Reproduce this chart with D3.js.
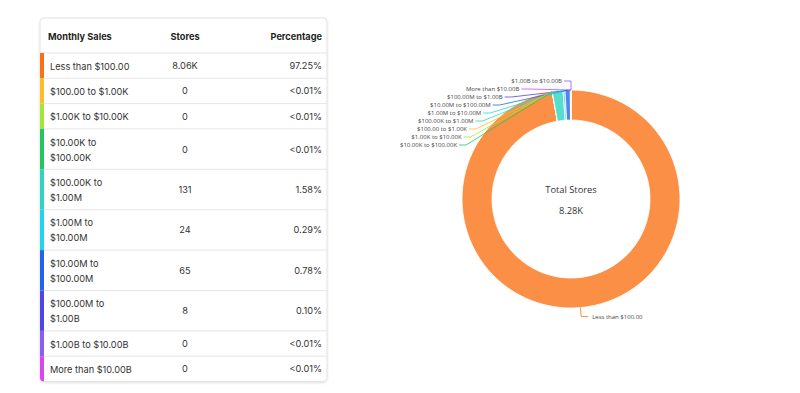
<!DOCTYPE html>
<html>
<head>
<meta charset="utf-8">
<script src="https://cdn.jsdelivr.net/npm/d3@7"></script>
<style>
  body { margin: 0; background: #fff; }
  svg { display: block; }
</style>
</head>
<body>
<svg id="chart" width="800" height="393"></svg>
<script>
// Sales buckets and store counts
const categories = ["Less than $100.00", "$100.00 to $1.00K", "$1.00K to $10.00K", "$10.00K to $100.00K",
  "$100.00K to $1.00M", "$1.00M to $10.00M", "$10.00M to $100.00M", "$100.00M to $1.00B",
  "$1.00B to $10.00B", "More than $10.00B"];
const tableLines = [["Less than $100.00"], ["$100.00 to $1.00K"], ["$1.00K to $10.00K"], ["$10.00K to", "$100.00K"],
  ["$100.00K to", "$1.00M"], ["$1.00M to", "$10.00M"], ["$10.00M to", "$100.00M"], ["$100.00M to", "$1.00B"],
  ["$1.00B to $10.00B"], ["More than $10.00B"]];
const stores = [8060, 0, 0, 0, 131, 24, 65, 8, 0, 0];
const storeLabels = ["8.06K", "0", "0", "0", "131", "24", "65", "8", "0", "0"];
const pctLabels = ["97.25%", "<0.01%", "<0.01%", "<0.01%", "1.58%", "0.29%", "0.78%", "0.10%", "<0.01%", "<0.01%"];
const colors = ["#f97316", "#fbbf24", "#a3e635", "#22c55e", "#2dd4bf", "#22d3ee", "#2563eb", "#4f46e5", "#8b5cf6", "#d946ef"];
const headers = ["Monthly Sales", "Stores", "Percentage"];
const totalLabel = "8.28K";
// order of the stacked labels on the left of the donut (top to bottom)
const leftLabelOrder = [8, 9, 7, 6, 5, 4, 1, 2, 3];

const svg = d3.select("#chart");
const font = "Inter, 'Open Sans', sans-serif";

// ---------- table ----------
const tx0 = 40, tx1 = 327, ttop = 18, headH = 35;
const rowH = tableLines.map(l => l.length > 1 ? 40.4 : 25.3);
const rowTop = [];
rowH.reduce((acc, h, i) => { rowTop[i] = acc; return acc + h; }, ttop + headH);
const tbottom = rowTop[9] + rowH[9];

const defs = svg.append("defs");
const sh = defs.append("filter").attr("id", "sh").attr("x", "-5%").attr("y", "-5%").attr("width", "110%").attr("height", "110%");
sh.append("feDropShadow").attr("dx", 0).attr("dy", 1).attr("stdDeviation", 1.2).attr("flood-color", "#000").attr("flood-opacity", 0.12);
defs.append("clipPath").attr("id", "tclip").append("rect")
  .attr("x", tx0).attr("y", ttop).attr("width", tx1 - tx0).attr("height", tbottom - ttop).attr("rx", 4);

svg.append("rect")
  .attr("x", tx0).attr("y", ttop).attr("width", tx1 - tx0).attr("height", tbottom - ttop)
  .attr("rx", 4).attr("fill", "#fff").attr("stroke", "#e3e3e3").attr("filter", "url(#sh)");

const tg = svg.append("g").attr("clip-path", "url(#tclip)");
const colX = [48, 185, 322];
const colAnchor = ["start", "middle", "end"];

tg.selectAll("text.head").data(headers).join("text")
  .attr("class", "head")
  .attr("x", (d, i) => colX[i]).attr("y", ttop + 18)
  .attr("text-anchor", (d, i) => colAnchor[i])
  .attr("dominant-baseline", "central")
  .attr("font-family", font).attr("font-size", 9.2).attr("font-weight", 700).attr("fill", "#1f1f1f")
  .text(d => d);

tg.append("line").attr("x1", tx0).attr("x2", tx1).attr("y1", ttop + headH).attr("y2", ttop + headH)
  .attr("stroke", "#e6e6e6");

const rows = tg.selectAll("g.row").data(categories).join("g").attr("class", "row");
rows.append("rect")
  .attr("x", tx0).attr("y", (d, i) => rowTop[i]).attr("width", 4).attr("height", (d, i) => rowH[i])
  .attr("fill", (d, i) => colors[i]);
rows.append("line")
  .attr("x1", tx0 + 4).attr("x2", tx1)
  .attr("y1", (d, i) => rowTop[i] + rowH[i]).attr("y2", (d, i) => rowTop[i] + rowH[i])
  .attr("stroke", "#e6e6e6");
rows.each(function (d, i) {
  const g = d3.select(this);
  const mid = rowTop[i] + rowH[i] / 2;
  const lines = tableLines[i];
  g.selectAll("text.cat").data(lines).join("text")
    .attr("class", "cat")
    .attr("x", 50)
    .attr("y", (l, j) => mid + 0.5 + (j - (lines.length - 1) / 2) * 15)
    .attr("dominant-baseline", "central")
    .attr("font-family", font).attr("font-size", 9.2).attr("fill", "#333")
    .text(l => l);
  g.append("text").attr("x", colX[1]).attr("y", mid).attr("text-anchor", "middle")
    .attr("dominant-baseline", "central").attr("font-family", font).attr("font-size", 9.2).attr("fill", "#333")
    .text(storeLabels[i]);
  g.append("text").attr("x", colX[2]).attr("y", mid).attr("text-anchor", "end")
    .attr("dominant-baseline", "central").attr("font-family", font).attr("font-size", 9.2).attr("fill", "#333")
    .text(pctLabels[i]);
});

// ---------- donut ----------
const cx = 571, cy = 199, R = 109, r = 79, Re = 118;
const pie = d3.pie().sort(null).value(d => d)(stores);
const arc = d3.arc().innerRadius(r).outerRadius(R);
const dg = svg.append("g").attr("transform", `translate(${cx},${cy})`);

dg.selectAll("path").data(pie).join("path")
  .attr("d", arc)
  .attr("fill", (d, i) => colors[i]).attr("fill-opacity", 0.8)
  .attr("stroke", "#fff").attr("stroke-width", 0.8);

dg.append("text").attr("y", -10).attr("text-anchor", "middle").attr("dominant-baseline", "central")
  .attr("font-family", "'Open Sans', sans-serif").attr("font-size", 9.3).attr("fill", "#333").text("Total Stores");
dg.append("text").attr("y", 11).attr("text-anchor", "middle").attr("dominant-baseline", "central")
  .attr("font-family", "'Open Sans', sans-serif").attr("font-size", 9.3).attr("fill", "#333").text(totalLabel);

const mid = d => (d.startAngle + d.endAngle) / 2;
const labelFont = "'Open Sans', sans-serif";

// stacked labels on the upper left
leftLabelOrder.forEach((idx, k) => {
  const d = pie[idx];
  const a = mid(d);
  const ax = R * Math.sin(a), ay = -R * Math.cos(a);
  const ly = -Re + k * 8;
  const ex = -Math.sqrt(Math.max(0, Re * Re - ly * ly));
  dg.append("polyline")
    .attr("points", [[ax, ay], [ex, ly], [ex - 7, ly]].map(p => p.join(",")).join(" "))
    .attr("fill", "none").attr("stroke", colors[idx]).attr("stroke-width", 0.8);
  dg.append("text").attr("x", ex - 9).attr("y", ly).attr("text-anchor", "end")
    .attr("dominant-baseline", "central").attr("font-family", labelFont).attr("font-size", 6)
    .attr("fill", "#444").text(categories[idx]);
});

// label for the main slice
{
  const d = pie[0];
  const a = mid(d);
  const ax = R * Math.sin(a), ay = -R * Math.cos(a);
  const ex = Re * Math.sin(a), ey = -Re * Math.cos(a);
  dg.append("polyline")
    .attr("points", [[ax, ay], [ex, ey], [ex + 7, ey]].map(p => p.join(",")).join(" "))
    .attr("fill", "none").attr("stroke", colors[0]).attr("stroke-width", 0.8);
  dg.append("text").attr("x", ex + 11).attr("y", ey).attr("dominant-baseline", "central")
    .attr("font-family", labelFont).attr("font-size", 6).attr("fill", "#444").text(categories[0]);
}
</script>
</body>
</html>
